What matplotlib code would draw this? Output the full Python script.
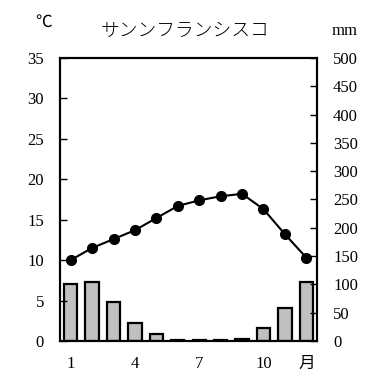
import matplotlib.pyplot as plt

plt.rcParams['font.family'] = ['Liberation Serif', 'Noto Sans CJK JP']

months = list(range(1, 13))
temp = [10.0, 11.5, 12.6, 13.7, 15.2, 16.7, 17.4, 17.9, 18.2, 16.3, 13.2, 10.3]   # degC
precip = [100, 105, 69, 31, 13, 2.5, 1, 1, 3, 22, 58, 104]                       # mm
xtick_pos = [1, 4, 7, 10, 12]
xtick_lab = ["1", "4", "7", "10", "月"]
title = "サンンフランシスコ"

fig = plt.figure(figsize=(3.77, 3.87), dpi=100)
ax = fig.add_axes([0.159, 0.119, 0.682, 0.731])   # temperature axis (left)
ax2 = ax.twinx()                                  # precipitation axis (right)

ax2.bar(months, precip, width=0.62, color="#c0c0c0", edgecolor="black", linewidth=1.6, zorder=1)
ax.plot(months, temp, color="black", lw=1.5, marker="o", ms=7, zorder=3)
ax.set_zorder(ax2.get_zorder() + 1)
ax.patch.set_visible(False)

ax.set_xlim(0.5, 12.5)
ax.set_ylim(0, 35)
ax2.set_ylim(0, 500)
ax.set_yticks(range(0, 36, 5))
ax2.set_yticks(range(0, 501, 50))
ax.set_xticks(xtick_pos)
ax.set_xticklabels(xtick_lab)

ax.tick_params(axis="y", direction="in", length=5, width=1, labelsize=12, pad=11.5)
ax2.tick_params(axis="y", direction="in", length=5, width=1, labelsize=12, pad=11.5)
ax.tick_params(axis="x", length=0, labelsize=12, pad=11)

for a in (ax, ax2):
    for s in a.spines.values():
        s.set_linewidth(1.5)

fig.text(0.115, 0.94, "℃", ha="center", va="center", fontsize=12)
fig.text(0.49, 0.92, title, ha="center", va="center", fontsize=13.5, fontweight="light")
fig.text(0.915, 0.92, "mm", ha="center", va="center", fontsize=12)

fig.savefig("out.png", dpi=100)
